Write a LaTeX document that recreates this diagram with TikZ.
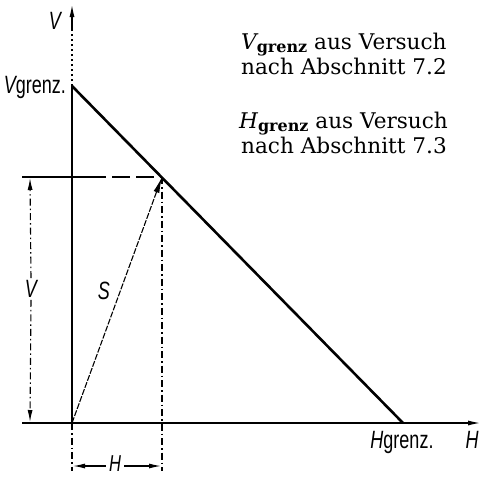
\documentclass[tikz,border=0pt]{standalone}
\usepackage{fontspec}
\setmainfont{DejaVu Serif}
\newfontfamily\labfont[FakeStretch=0.72]{Liberation Sans}
\usetikzlibrary{arrows.meta}
\tikzset{
  axisline/.style={line width=1.6pt},
  mainline/.style={line width=2.6pt},
  dashdot/.style={line width=1.1pt, dash pattern=on 7pt off 3pt on 1.5pt off 3pt},
  dotline/.style={line width=1.1pt, dash pattern=on 2pt off 3pt},
  dashline/.style={line width=1.3pt, dash pattern=on 18pt off 6pt},
  tip/.style={-{Latex[length=13pt,width=5pt]}},
  dimtip/.style={-{Latex[length=12pt,width=5pt]}},
  lab/.style={inner sep=0pt, font=\labfont\fontsize{25}{26}\selectfont},
  note/.style={inner sep=0pt, anchor=base west, font=\fontsize{21.6}{24}\selectfont}
}
\newcommand{\grz}[1]{{\itshape #1}\raisebox{-0.35ex}{\fontsize{16}{16}\selectfont\bfseries grenz}}
\begin{document}
\begin{tikzpicture}[x=1pt,y=-1pt]
\useasboundingbox (0,0) rectangle (482,477);
% points
\coordinate (O) at (72,423);
\coordinate (Vg) at (72,86);
\coordinate (Vtop) at (72,4);
\coordinate (Hg) at (403,423);
\coordinate (Hend) at (481,423);
\coordinate (Hstart) at (22,423);
\coordinate (P) at (162,177);
\coordinate (Pleft) at (22,177);
\coordinate (Pmid) at (88,177);
\coordinate (Ob) at (72,471);
\coordinate (Pb) at (162,471);
\coordinate (Vdt) at (30,178);
\coordinate (Vdb) at (30,422);
\coordinate (Hdl) at (73,466);
\coordinate (Hdr) at (161,466);
% axes
\draw[dotline] (Vg) -- (72,25);
\draw[axisline, tip] (72,30) -- (Vtop);
\draw[axisline] (O) -- (Vg);
\draw[axisline, tip] (Hstart) -- (Hend);
\draw[dashdot] (O) -- (Ob);
% limit line
\draw[mainline, line cap=round] (Vg) -- (Hg);
% projections
\draw[line width=1.3pt] (Pleft) -- (Pmid);
\draw[dashline] (Pmid) -- (P);
\draw[dashdot] (P) -- (Pb);
% resultant S
\draw[line width=1.1pt, dash pattern=on 6pt off 1.5pt, -{Latex[length=16pt,width=6pt]}] (O) -- (P);
% labels
\node[lab] (lV) at (55,21) {\itshape V};
\node[lab, anchor=east] (lVg) at (66,87) {{\itshape V}grenz.};
\node[lab] (lH) at (472,440) {\itshape H};
\node[lab] (lHg) at (402,442) {{\itshape H}grenz.};
\node[lab] (lS) at (104,291) {\itshape S};
% V dimension
\node[lab, fill=white, inner sep=2pt] (lVd) at (31,289) {\itshape V};
\draw[dashdot, dimtip] (lVd.north) -- (Vdt);
\draw[dashdot, dimtip] (lVd.south) -- (Vdb);
% H dimension
\node[lab, font=\labfont\fontsize{23}{24}\selectfont] (lHd) at (115,464) {\itshape H};
\draw[line width=1.2pt, dimtip] ([xshift=-3pt]lHd.west |- Hdl) -- (Hdl);
\draw[line width=1.2pt, dimtip] ([xshift=3pt]lHd.east |- Hdr) -- (Hdr);
% notes
\node[note] (n1a) at (241,49) {\grz{V} aus Versuch};
\node[note] (n1b) at (241,74) {nach Abschnitt 7.2};
\node[note] (n2a) at (239,128) {\grz{H} aus Versuch};
\node[note] (n2b) at (241,153) {nach Abschnitt 7.3};
\end{tikzpicture}
\end{document}
